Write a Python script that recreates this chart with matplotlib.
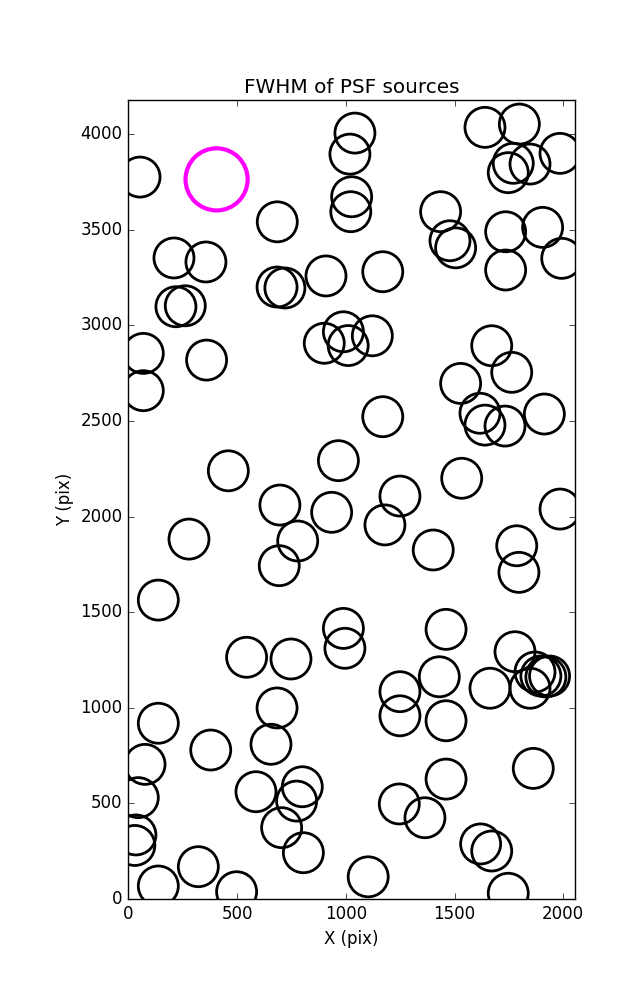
import matplotlib
matplotlib.use('Agg')
import matplotlib.pyplot as plt
import numpy as np

# source positions (pix)
x_src = [54, 685, 210, 357, 219, 262, 684, 720, 909, 1170,
         1042, 1019, 1027, 1023, 1436, 1479, 1505, 1640, 1798, 1770,
         1847, 1747, 1985, 1735, 1905, 1993, 1735, 69, 69, 360,
         901, 989, 1011, 1122, 460, 966, 1170, 1671, 1763, 1528,
         1617, 1640, 1732, 1913, 1533, 1985, 1249, 1180, 1402, 1786,
         1796, 697, 779, 694, 935, 279, 138, 989, 996, 544,
         748, 1461, 1778, 1870, 1897, 1920, 1937, 1249, 1249, 1430,
         1461, 1663, 1847, 1862, 1461, 1246, 1364, 1620, 1671, 1747,
         1103, 684, 656, 587, 800, 774, 705, 805, 379, 138,
         77, 46, 35, 30, 322, 138, 498]
y_src = [3775, 3541, 3352, 3331, 3097, 3102, 3200, 3195, 3258, 3280,
         4005, 3895, 3672, 3594, 3594, 3442, 3405, 4035, 4052, 3847,
         3843, 3798, 3899, 3489, 3512, 3350, 3289, 2853, 2658, 2818,
         2906, 2966, 2894, 2945, 2239, 2292, 2522, 2893, 2754, 2696,
         2540, 2478, 2473, 2536, 2200, 2039, 2107, 1956, 1825, 1847,
         1708, 2060, 1872, 1743, 2022, 1882, 1563, 1415, 1311, 1264,
         1255, 1410, 1293, 1187, 1166, 1161, 1166, 1084, 958, 1162,
         932, 1102, 1102, 683, 627, 497, 425, 288, 251, 30,
         116, 999, 809, 561, 587, 512, 373, 242, 779, 919,
         704, 530, 335, 280, 169, 68, 38]

# highlighted source
x_hl = [406]
y_hl = [3763]

plt.style.use('classic')

fig = plt.figure(figsize=(6.37, 10.0))
ax = fig.add_axes([0.2014, 0.101, 0.7013, 0.799])

ax.scatter(x_src, y_src, s=830, facecolors='none', edgecolors='k', linewidths=2)
ax.scatter(x_hl, y_hl, s=2000, facecolors='none', edgecolors='#ff00ff', linewidths=3)

ax.set_xlim(0, 2054)
ax.set_ylim(0, 4178)
ax.set_xticks(np.arange(0, 2001, 500))
ax.set_yticks(np.arange(0, 4001, 500))

ax.set_xlabel('X (pix)')
ax.set_ylabel('Y (pix)')
ax.set_title('FWHM of PSF sources')

fig.savefig('out.png', dpi=100, facecolor='white')
